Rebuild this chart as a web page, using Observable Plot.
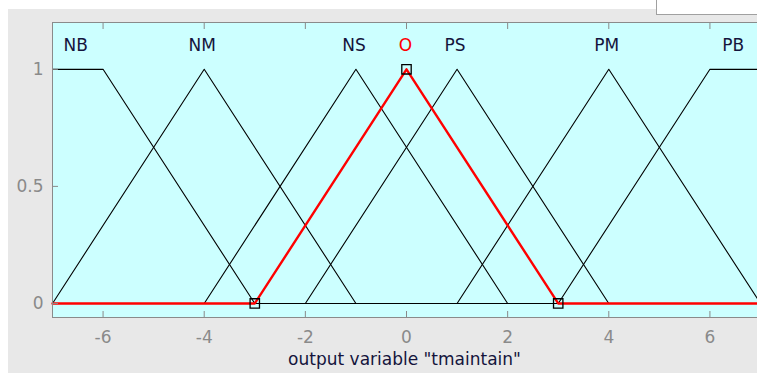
<!DOCTYPE html>
<html>
<head>
<meta charset="utf-8">
<script src="https://cdn.jsdelivr.net/npm/d3@7"></script>
<script src="https://cdn.jsdelivr.net/npm/@observablehq/plot@0.6"></script>
<style>
  html, body { margin: 0; padding: 0; background: #fff; }
</style>
</head>
<body>
<div id="chart"></div>
<script>
// Output membership functions of "tmaintain": breakpoints (x) and grades (y)
const mfNames = ["NB", "NM", "NS", "O", "PS", "PM", "PB"];
const mfX = [
  [-7, -6, -3, 7],
  [-7, -4, -1, 7],
  [-7, -4, -1, 2, 7],
  [-7, -3, 0, 3, 7],
  [-7, -2, 1, 4, 7],
  [-7, 1, 4, 7],
  [-7, 3, 6, 7]
];
const mfY = [
  [1, 1, 0, 0],
  [0, 1, 0, 0],
  [0, 0, 1, 0, 0],
  [0, 0, 1, 0, 0],
  [0, 0, 1, 0, 0],
  [0, 0, 1, 0],
  [0, 0, 1, 1]
];
const labelX = [-6.5, -4, -1, 0, 1, 4, 6.5];
const labelY = 1.1;
const selectedMF = "O";
const xTicks = [-6, -4, -2, 0, 2, 4, 6];
const yTicks = [0, 0.5, 1];
const xDomain = [-7, 7];
const yDomain = [-0.06, 1.2];
const xLabel = 'output variable "tmaintain"';

// Flatten the breakpoints into one row per vertex
const points = mfNames.flatMap((name, i) =>
  mfX[i].map((x, j) => ({name, x, y: mfY[i][j]}))
);
const others = points.filter(d => d.name !== selectedMF);
const selected = points.filter(d => d.name === selectedMF);
// Vertex markers on the selected function (interior breakpoints only)
const markers = selected.filter(d => d.x !== xDomain[0] && d.x !== xDomain[1]);
const labels = mfNames.map((name, i) => ({name, x: labelX[i], y: labelY}));

const W = 757, H = 373;
const mL = 52, mT = 22, mB = 56, mR = -3;
const ink = "#14143c";
const axisGrey = "#8a8a8a";

const chart = Plot.plot({
  width: W,
  height: H,
  marginLeft: mL,
  marginRight: mR,
  marginTop: mT,
  marginBottom: mB,
  style: {
    fontFamily: "DejaVu Sans",
    fontSize: "17px",
    overflow: "hidden",
    background:
      "linear-gradient(#fff,#fff) 657px 0 / 100px 14px no-repeat," +
      "linear-gradient(#a0a0a0,#a0a0a0) 656px 0 / 101px 15px no-repeat," +
      "linear-gradient(#fff,#fff) 0 0 / 100% 9px no-repeat," +
      "linear-gradient(#fff,#fff) 0 0 / 8px 100% no-repeat," +
      "#e8e8e8"
  },
  x: {domain: xDomain, range: [mL, W - mR], label: null},
  y: {domain: yDomain, range: [H - mB, mT], label: null},
  marks: [
    Plot.frame({fill: "#ccffff"}),
    Plot.line(others, {x: "x", y: "y", z: "name", stroke: "black", strokeWidth: 1.1}),
    Plot.line(selected, {x: "x", y: "y", stroke: "#ff0000", strokeWidth: 2.4}),
    Plot.dot(markers, {x: "x", y: "y", symbol: "square", r: 5.3, stroke: "black", fill: "none", strokeWidth: 1.3}),
    Plot.text(labels.filter(d => d.name !== selectedMF), {x: "x", y: "y", text: "name", dx: -2, fill: ink}),
    Plot.text(labels.filter(d => d.name === selectedMF), {x: "x", y: "y", text: "name", dx: -1, fill: "#ff0000"}),
    Plot.frame({stroke: axisGrey}),
    Plot.axisX(xTicks, {anchor: "bottom", tickSize: -6, tickPadding: 19, tickFormat: d => String(d), color: axisGrey}),
    Plot.axisX(xTicks, {anchor: "top", tickSize: -6, tickFormat: () => "", color: axisGrey}),
    Plot.axisY(yTicks, {anchor: "left", tickSize: -6, tickPadding: 15, tickFormat: d => String(d), color: axisGrey}),
    Plot.text([xLabel], {frameAnchor: "bottom", dy: 47, dx: -2, fill: ink})
  ]
});

document.getElementById("chart").appendChild(chart);
</script>
</body>
</html>
